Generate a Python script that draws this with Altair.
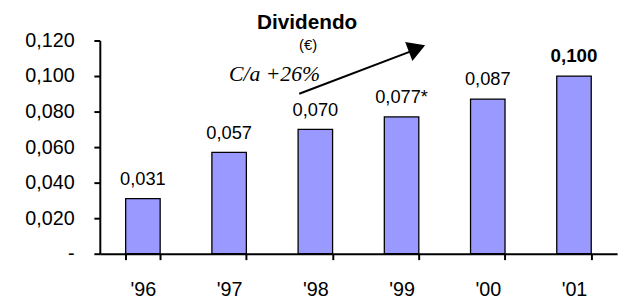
import altair as alt
import pandas as pd

years = ["'96", "'97", "'98", "'99", "'00", "'01"]
values = [0.031, 0.057, 0.070, 0.077, 0.087, 0.100]
labels = ["0,031", "0,057", "0,070", "0,077*", "0,087", "0,100"]
weights = ["normal", "normal", "normal", "normal", "normal", "bold"]
y_ticks = [0, 0.02, 0.04, 0.06, 0.08, 0.10, 0.12]

df = pd.DataFrame({"year": years, "value": values, "label": labels, "weight": weights})

FONT = "Liberation Sans"

x = alt.X("year:N", sort=years, title=None,
          scale=alt.Scale(paddingInner=0.6, paddingOuter=0.3),
          axis=alt.Axis(labelAngle=0, labelFontSize=20, labelFont=FONT, labelColor="black",
                        domainColor="black", tickColor="black", tickSize=6, tickBand="extent",
                        labelPadding=20, domainWidth=2, tickWidth=2))
y = alt.Y("value:Q", title=None,
          scale=alt.Scale(domain=[0, 0.12], nice=False),
          axis=alt.Axis(values=y_ticks, tickCount=20, labelOverlap=False,
                        labelExpr="datum.value == 0 ? '-' : replace(format(datum.value, '.3f'), '.', ',')",
                        labelFontSize=20, labelFont=FONT, labelColor="black", grid=False,
                        domainColor="black", tickColor="black", tickSize=6, labelPadding=20,
                        domainWidth=2, tickWidth=2))

base = alt.Chart(df)

bars = base.mark_bar(color="#9999FF", stroke="black", strokeWidth=1.3).encode(x=x, y=y)

text_normal = base.transform_filter("datum.weight == 'normal'").mark_text(
    baseline="alphabetic", dy=-14, fontSize=18.5, font=FONT, color="black"
).encode(x=alt.X("year:N", sort=years), y="value:Q", text="label:N")

text_bold = base.transform_filter("datum.weight == 'bold'").mark_text(
    baseline="alphabetic", dy=-14, fontSize=19, font=FONT, color="black", fontWeight="bold"
).encode(x=alt.X("year:N", sort=years), y="value:Q", text="label:N")

title = alt.Chart(pd.DataFrame({"t": ["Dividendo"]})).mark_text(
    fontSize=21, font=FONT, fontWeight="bold", color="black", baseline="alphabetic"
).encode(x=alt.value(210), y=alt.value(-12), text="t:N")

unit = alt.Chart(pd.DataFrame({"t": ["(€)"]})).mark_text(
    fontSize=15, font=FONT, color="black", baseline="alphabetic"
).encode(x=alt.value(211), y=alt.value(10), text="t:N")

cagr = alt.Chart(pd.DataFrame({"t": ["C/a +26%"]})).mark_text(
    fontSize=22, font="Liberation Serif", fontStyle="italic", color="black", baseline="alphabetic"
).encode(x=alt.value(177), y=alt.value(41), text="t:N")

arrow_line = alt.Chart(pd.DataFrame({"a": [1]})).mark_rule(color="black", strokeWidth=2).encode(
    x=alt.value(202), y=alt.value(54), x2=alt.value(315), y2=alt.value(11))

arrow_head = alt.Chart(pd.DataFrame({"a": [1]})).mark_point(
    shape="triangle", filled=True, color="black", size=420, opacity=1, angle=69
).encode(x=alt.value(318.5), y=alt.value(9))

chart = alt.layer(bars, text_normal, text_bold, title, unit, cagr, arrow_line, arrow_head).properties(
    width=524, height=216,
    autosize=alt.AutoSizeParams(type="none"),
    padding={"left": 93, "top": 31, "right": 8, "bottom": 47},
).configure_view(stroke=None)

chart.save("out.html", embed_options={"renderer": "svg", "actions": False})
